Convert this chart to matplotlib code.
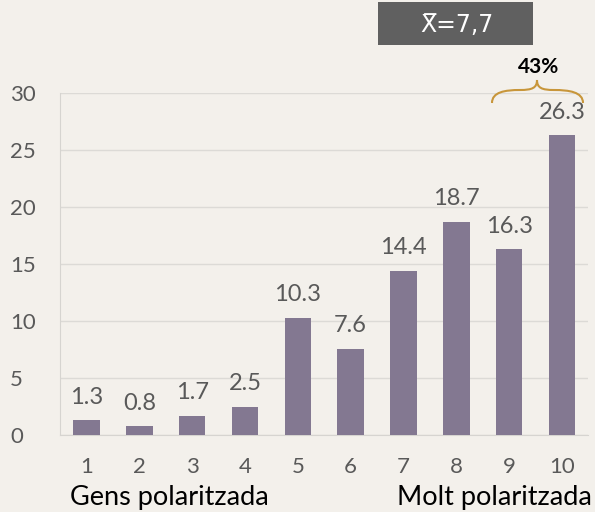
import matplotlib
matplotlib.use("Agg")
import matplotlib.pyplot as plt
from matplotlib.path import Path
from matplotlib.patches import PathPatch, Rectangle

# dades
categories = [1, 2, 3, 4, 5, 6, 7, 8, 9, 10]
valors = [1.3, 0.8, 1.7, 2.5, 10.3, 7.6, 14.4, 18.7, 16.3, 26.3]
etiquetes = ["1.3", "0.8", "1.7", "2.5", "10.3", "7.6", "14.4", "18.7", "16.3", "26.3"]
yticks = [0, 5, 10, 15, 20, 25, 30]
mitjana = "X\u0305=7,7"
percent = "43%"

plt.rcParams['font.family'] = ['Lato', 'DejaVu Sans']
fons = '#f3f0eb'
gris = '#595959'

fig = plt.figure(figsize=(5.95, 5.12), dpi=100, facecolor=fons)
ax = fig.add_axes([0.101, 0.150, 0.888, 0.668], facecolor=fons)

ax.bar(categories, valors, width=0.5, color='#837891', zorder=3)
for x, v, t in zip(categories, valors, etiquetes):
    ax.text(x, v + 1.1, t, ha='center', va='bottom', fontsize=17, color=gris)

ax.set_xlim(0.5, 10.5)
ax.set_ylim(0, 30)
ax.set_yticks(yticks)
ax.set_xticks(categories)
ax.tick_params(axis='both', length=0, labelsize=16, colors=gris)
ax.tick_params(axis='x', pad=16)
ax.tick_params(axis='y', pad=36)
for lab in ax.get_yticklabels():
    lab.set_horizontalalignment('left')
ax.grid(axis='y', color='#dcdad6', linewidth=1, zorder=0)
for s in ['top', 'right']:
    ax.spines[s].set_visible(False)
for s in ['left', 'bottom']:
    ax.spines[s].set_color('#d6d4d0')

fig.text(70 / 595, 1 - 497 / 512, "Gens polaritzada", fontsize=19.5, color='black',
         ha='left', va='center')
fig.text(592 / 595, 1 - 497 / 512, "Molt polaritzada", fontsize=19.5, color='black',
         ha='right', va='center')

# caixa de la mitjana
fig.patches.append(Rectangle((378 / 595, 1 - 45 / 512), 155 / 595, 43 / 512,
                             transform=fig.transFigure, facecolor='#606060',
                             edgecolor='none'))
fig.text(457 / 595, 1 - 25 / 512, mitjana, fontsize=17, color='white',
         ha='center', va='center', family='DejaVu Sans')

# clau
fig.text(539 / 595, 1 - 67 / 512, percent, fontsize=15, fontweight='bold',
         color='black', ha='center', va='center')
W, H = 595, 512
pts = [(492, 103), (492, 92), (505, 90), (520, 90), (532, 90), (537, 88), (537, 80),
       (537, 88), (542, 90), (554, 90), (569, 90), (583, 92), (583, 103)]
verts = [(px / W, 1 - py / H) for px, py in pts]
codes = [Path.MOVETO] + [Path.CURVE4] * 12
fig.patches.append(PathPatch(Path(verts, codes), transform=fig.transFigure,
                             facecolor='none', edgecolor='#c8963a', linewidth=1.5))

fig.savefig('out.png', dpi=100, facecolor=fons)
